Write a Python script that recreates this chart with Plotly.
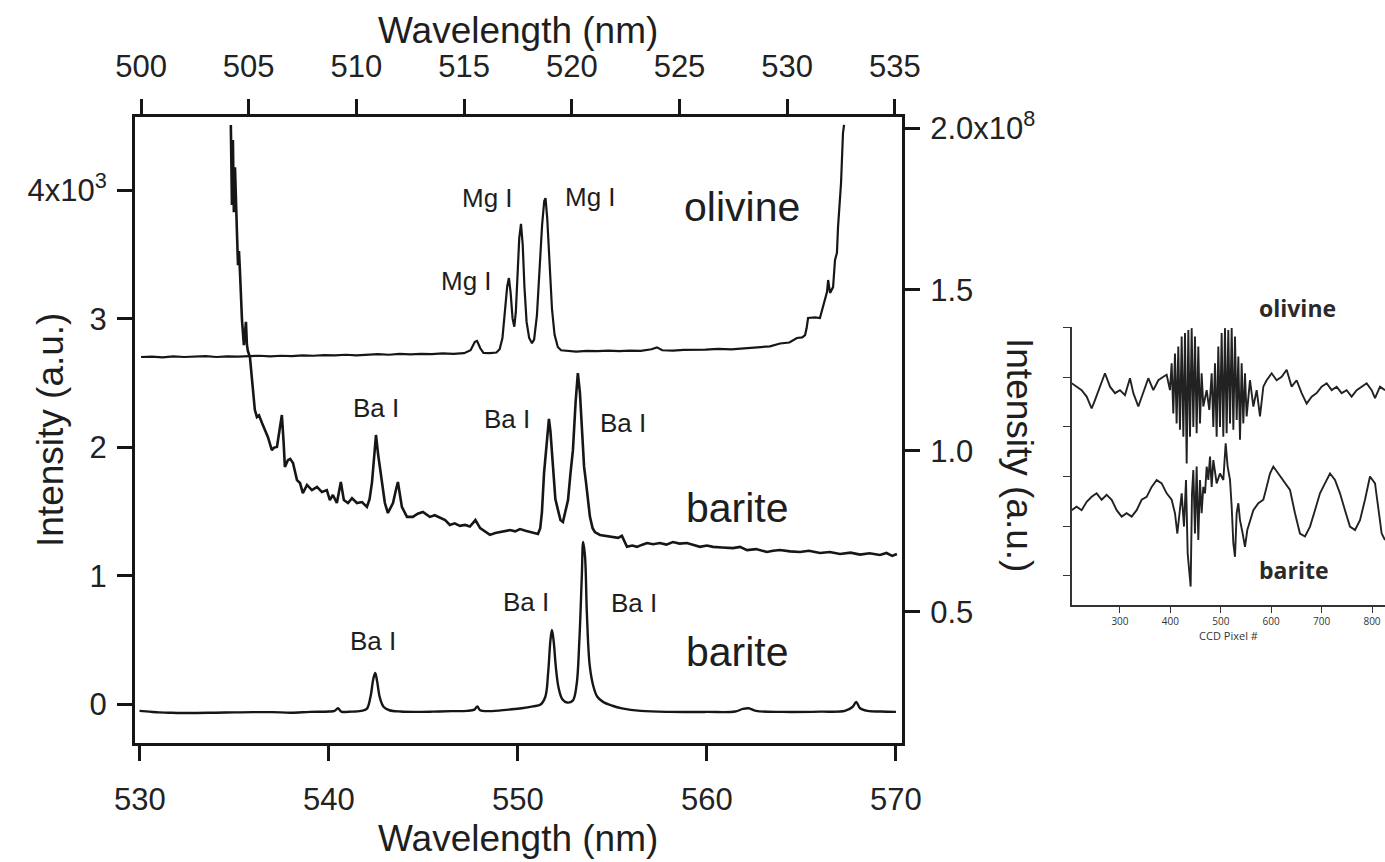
import plotly.graph_objects as go

# ---------------- data ----------------
# olivine spectrum (top wavelength axis, right intensity axis, x1e8)
oliv_wl = [500.0, 500.5, 501.0, 501.5, 502.0, 502.5, 503.0, 503.5, 504.0, 504.5, 505.0, 505.5, 506.0,
           506.5, 507.0, 507.5, 508.0, 508.5, 509.0, 509.5, 510.0, 510.5, 511.0, 511.5, 512.0, 512.5,
           513.0, 513.5, 514.0, 514.5, 515.0, 515.3, 515.5, 515.6, 515.75, 515.9, 516.2, 516.5, 516.65,
           516.78, 516.9, 517.0, 517.08, 517.16, 517.25, 517.33, 517.4, 517.48, 517.56, 517.64, 517.72,
           517.8, 517.9, 518.02, 518.15, 518.25, 518.38, 518.5, 518.62, 518.72, 518.78, 518.86, 518.96,
           519.08, 519.2, 519.35, 519.5, 519.8, 520.2, 520.7, 521.2, 521.7, 522.2, 522.7, 523.2, 523.7,
           523.95, 524.2, 524.7, 525.2, 525.5, 526.2, 526.8, 527.4, 528.0, 528.6, 529.2, 529.67, 530.1,
           530.45, 530.7, 530.83, 530.9, 530.97, 531.3, 531.52, 531.66, 531.85, 531.9, 531.99, 532.13,
           532.22, 532.31, 532.36, 532.5, 532.59, 532.64]
oliv_int = [1.291, 1.292, 1.290, 1.293, 1.291, 1.292, 1.294, 1.291, 1.293, 1.292, 1.294, 1.295, 1.293,
            1.295, 1.294, 1.296, 1.295, 1.297, 1.296, 1.298, 1.296, 1.299, 1.300, 1.298, 1.301, 1.299,
            1.301, 1.300, 1.302, 1.301, 1.303, 1.312, 1.338, 1.341, 1.318, 1.304, 1.303, 1.305, 1.315,
            1.350, 1.440, 1.510, 1.536, 1.490, 1.410, 1.385, 1.430, 1.550, 1.660, 1.704, 1.640,
            1.510, 1.400, 1.350, 1.334, 1.345, 1.420, 1.560, 1.700, 1.775, 1.784, 1.720, 1.580,
            1.440, 1.360, 1.322, 1.312, 1.310, 1.308, 1.310, 1.309, 1.311, 1.309, 1.311, 1.310, 1.315,
            1.321, 1.312, 1.311, 1.313, 1.313, 1.314, 1.316, 1.315, 1.318, 1.321, 1.324, 1.333, 1.336,
            1.350, 1.352, 1.359, 1.380, 1.412, 1.414, 1.412, 1.446, 1.493, 1.530, 1.490, 1.508,
            1.592, 1.614, 1.694, 1.831, 1.986, 2.011]

# barite spectrum 1 (bottom wavelength axis, right intensity axis, x1e8)
bar1_wl = [534.81, 534.87, 534.92, 534.97, 535.03, 535.08, 535.13, 535.19, 535.24, 535.29, 535.35, 535.40,
           535.50, 535.55, 535.61, 535.66, 535.71, 535.82, 535.93, 536.08, 536.19, 536.30, 536.46, 536.61,
           536.77, 536.98, 537.10, 537.25, 537.40, 537.51, 537.60, 537.67, 537.83, 537.95, 538.10, 538.31,
           538.47, 538.62, 538.84, 539.10, 539.37, 539.63, 539.89, 540.05, 540.21, 540.42, 540.63, 540.79,
           541.01, 541.22, 541.48, 541.75, 542.01, 542.15, 542.28, 542.40, 542.49, 542.60, 542.70, 542.96,
           543.12, 543.39, 543.55, 543.65, 543.86, 544.13, 544.44, 544.70, 544.97, 545.34, 545.60, 545.87,
           546.15, 546.40, 546.65, 546.93, 547.20, 547.46, 547.75, 548.0, 548.26, 548.52, 548.8, 549.05,
           549.3, 549.58, 549.85, 550.11, 550.4, 550.63, 550.85, 551.06, 551.18, 551.27, 551.38, 551.48,
           551.56, 551.64, 551.72, 551.85, 551.98, 552.12, 552.25, 552.38, 552.52, 552.65, 552.78, 552.91,
           553.05, 553.17, 553.28, 553.39, 553.50, 553.60, 553.70, 553.81, 553.95, 554.07, 554.34, 554.7,
           555.03, 555.3, 555.50, 555.77, 556.05, 556.30, 556.55, 556.83, 557.15, 557.51, 557.85, 558.20,
           558.55, 558.94, 559.3, 559.63, 560.0, 560.32, 560.8, 561.38, 561.75, 562.12, 562.6, 563.17,
           563.5, 563.86, 564.4, 564.92, 565.4, 565.98, 566.5, 567.04, 567.6, 568.10, 568.6, 569.15,
           569.5, 569.8, 570.05]
bar1_int = [2.011, 1.763, 1.964, 1.740, 1.880, 1.747, 1.685, 1.576, 1.620, 1.561, 1.468, 1.406,
            1.328, 1.360, 1.400, 1.330, 1.310, 1.291, 1.220, 1.127, 1.105, 1.110, 1.086, 1.065,
            1.043, 1.002, 1.010, 1.012, 1.070, 1.111, 1.030, 0.950, 0.971, 0.975, 0.962, 0.909,
            0.900, 0.869, 0.894, 0.878, 0.888, 0.872, 0.878, 0.847, 0.863, 0.838, 0.903, 0.847,
            0.838, 0.853, 0.838, 0.841, 0.826, 0.850, 0.903, 1.000, 1.049, 0.990, 0.950, 0.838,
            0.807, 0.838, 0.880, 0.903, 0.826, 0.795, 0.795, 0.805, 0.810, 0.795, 0.800, 0.792,
            0.785, 0.770, 0.775, 0.767, 0.770, 0.765, 0.785, 0.760, 0.748, 0.739, 0.745, 0.748,
            0.752, 0.754, 0.750, 0.757, 0.752, 0.748, 0.745, 0.742, 0.760, 0.810, 0.930, 1.002,
            1.070, 1.099, 1.060, 0.950, 0.850, 0.816, 0.785, 0.779, 0.820, 0.847, 0.930, 1.002,
            1.150, 1.241, 1.180, 1.055, 0.950, 0.903, 0.850, 0.795, 0.760, 0.748, 0.739, 0.736,
            0.733, 0.730, 0.736, 0.702, 0.706, 0.702, 0.708, 0.714, 0.710, 0.714, 0.709, 0.717,
            0.712, 0.714, 0.708, 0.702, 0.706, 0.702, 0.700, 0.698, 0.702, 0.692, 0.695, 0.686,
            0.690, 0.692, 0.688, 0.686, 0.690, 0.683, 0.686, 0.680, 0.684, 0.678, 0.682, 0.677,
            0.683, 0.674, 0.680]

# barite spectrum 2 (bottom wavelength axis, left intensity axis)
bar2_wl = [529.98, 530.5, 531.0, 531.5, 532.0, 533.0, 534.0, 535.0, 536.0, 537.0, 538.0, 539.0, 540.0,
           540.3, 540.48, 540.65, 541.2, 541.7, 542.0, 542.2, 542.35, 542.45, 542.55, 542.7, 542.9,
           543.2, 543.8, 544.5, 545.5, 546.5, 547.3, 547.7, 547.85, 548.0, 548.5, 549.5, 550.2, 550.8,
           551.2, 551.45, 551.6, 551.72, 551.8, 551.9, 552.0, 552.15, 552.35, 552.6, 552.9, 553.1,
           553.25, 553.38, 553.45, 553.55, 553.65, 553.8, 554.0, 554.2, 554.5, 555.0, 555.5, 556.5,
           558.0, 560.0, 561.5, 561.9, 562.2, 562.6, 564.0, 566.0, 567.3, 567.7, 567.9, 568.1, 568.5,
           569.2, 570.0]
bar2_int = [-50, -56, -62, -64, -66, -66, -64, -62, -60, -60, -64, -58, -55,
            -50, -30, -55, -56, -50, -35, 60, 200, 245, 180, 50, -20,
            -45, -55, -58, -56, -52, -50, -40, -15, -45, -52, -40, -30, -15,
            0, 60, 250, 500, 580, 480, 300, 130, 40, 15, 30, 150,
            500, 1000, 1265, 1150, 700, 300, 136, 60, 20, -10, -30, -50,
            -58, -58, -55, -35, -30, -50, -58, -56, -50, -20, 19, -30, -50,
            -55, -58]

# inset: CCD pixel traces
ccd_px_ol = [204.1, 214.0, 223.9, 233.9, 243.8, 250.4, 260.3, 270.2, 280.2, 290.1, 300.0, 309.9, 319.8,
             326.5, 336.4, 346.3, 356.2, 366.1, 376.1, 386.0, 392.6, 399.2, 402.5, 405.8, 409.1, 412.4,
             415.7, 419.0, 422.4, 425.7, 429.0, 432.3, 435.6, 438.9, 442.2, 445.5, 448.8, 452.1, 455.4,
             458.7, 462.0, 465.3, 472.0, 477.2, 481.9, 485.2, 488.5, 491.8, 495.1, 498.4, 501.7, 505.0,
             508.3, 511.6, 514.9, 518.3, 521.6, 524.9, 528.2, 531.5, 534.8, 538.1, 541.4, 544.7, 548.0,
             551.3, 557.9, 564.6, 571.2, 577.8, 584.4, 591.0, 600.9, 610.8, 620.8, 630.7, 640.6, 650.5,
             660.4, 670.4, 680.3, 690.2, 700.1, 710.1, 720.0, 729.9, 739.8, 749.7, 759.6, 769.6, 779.5,
             789.4, 799.3, 806.0, 815.9, 825.8]
ccd_ol = [3.88, 3.81, 3.74, 3.61, 3.37, 3.54, 3.81, 4.08, 3.81, 3.68, 3.74, 3.64, 3.98,
          3.68, 3.41, 3.68, 3.98, 3.74, 3.94, 4.01, 4.05, 3.74, 4.28, 3.27, 4.48, 3.07,
          4.62, 2.94, 4.82, 2.80, 4.89, 2.26, 4.95, 2.80, 4.99, 3.00, 4.82, 2.87, 4.62,
          3.07, 4.08, 3.41, 3.74, 3.34, 4.08, 3.00, 4.28, 2.80, 4.62, 3.00, 4.89, 2.80,
          4.99, 2.87, 4.95, 3.07, 4.99, 2.94, 4.82, 3.14, 4.42, 2.74, 4.28, 3.07, 4.08,
          3.21, 3.94, 3.41, 3.74, 3.21, 3.81, 3.94, 4.08, 3.94, 4.01, 4.15, 3.81, 3.94,
          3.68, 3.47, 3.61, 3.68, 3.81, 3.88, 3.74, 3.81, 3.68, 3.74, 3.61, 3.74, 3.81,
          3.88, 3.74, 3.58, 3.81, 3.74]
ccd_px_ba = [204.1, 214.0, 223.9, 233.9, 243.8, 253.7, 263.6, 273.5, 283.5, 293.4, 303.3, 313.2, 323.1,
             333.1, 343.0, 352.9, 362.8, 372.8, 382.7, 392.6, 402.5, 409.1, 413.8, 417.7, 422.4, 427.0,
             431.0, 434.3, 437.6, 440.2, 442.9, 445.5, 448.8, 452.1, 455.4, 458.7, 462.0, 465.3, 468.7,
             472.0, 475.3, 478.6, 481.9, 485.2, 491.8, 498.4, 505.0, 509.7, 513.6, 518.3, 521.6, 524.9,
             528.2, 531.5, 534.8, 538.1, 543.4, 548.0, 552.6, 557.9, 564.6, 574.5, 584.4, 591.0, 597.6,
             604.2, 614.2, 624.1, 637.3, 647.2, 657.1, 667.1, 677.0, 686.9, 696.8, 706.7, 716.7, 726.6,
             736.5, 746.4, 756.3, 766.3, 776.2, 786.1, 796.0, 806.0, 812.6, 819.2, 825.8]
ccd_ba = [1.32, 1.39, 1.32, 1.49, 1.59, 1.66, 1.53, 1.63, 1.53, 1.32, 1.19, 1.26, 1.19,
          1.32, 1.53, 1.59, 1.79, 1.93, 1.86, 1.66, 1.53, 1.26, 0.85, 1.19, 1.66, 0.99,
          1.93, 0.45, 0.05, -0.22, 1.66, 2.13, 0.85, 2.20, 0.72, 1.93, 1.26, 1.79, 1.66,
          2.20, 1.93, 2.40, 1.79, 2.33, 1.86, 2.06, 1.93, 2.67, 2.20, 1.93, 1.39, 0.65,
          0.38, 1.26, 1.46, 1.12, 0.85, 0.58, 0.92, 1.12, 1.32, 1.46, 1.53, 1.79, 2.06,
          2.20, 2.06, 1.93, 1.73, 1.26, 0.85, 0.79, 0.99, 1.32, 1.66, 1.86, 2.06, 1.93,
          1.66, 1.32, 0.99, 0.92, 1.12, 1.53, 2.00, 1.86, 1.39, 0.85, 0.72]

bottom_ticks = [530, 540, 550, 560, 570]
top_ticks = [500, 505, 510, 515, 520, 525, 530, 535]
left_ticks = [0, 1000, 2000, 3000, 4000]
left_labels = ["0", "1", "2", "3", "4x10<sup>3</sup>"]
right_ticks = [0.5, 1.0, 1.5, 2.0]
right_labels = ["0.5", "1.0", "1.5", "2.0x10<sup>8</sup>"]
inset_ticks = [300, 400, 500, 600, 700, 800]

# ---------------- figure ----------------
W, H = 1385, 862
INK = "#161616"
FONT = "Liberation Sans, Arial, Helvetica, sans-serif"


def px(x):
    return x / W


def py(y):
    return 1 - y / H


fig = go.Figure()
fig.add_trace(go.Scatter(x=oliv_wl, y=oliv_int, xaxis="x2", yaxis="y2", mode="lines",
                         line=dict(color=INK, width=2.2), hoverinfo="skip"))
fig.add_trace(go.Scatter(x=bar1_wl, y=bar1_int, xaxis="x", yaxis="y2", mode="lines",
                         line=dict(color=INK, width=2.6), hoverinfo="skip"))
fig.add_trace(go.Scatter(x=bar2_wl, y=bar2_int, xaxis="x", yaxis="y", mode="lines",
                         line=dict(color=INK, width=2.4), line_shape="spline", hoverinfo="skip"))
fig.add_trace(go.Scatter(x=ccd_px_ol, y=ccd_ol, xaxis="x3", yaxis="y3", mode="lines",
                         line=dict(color="#222", width=1.9), hoverinfo="skip"))
fig.add_trace(go.Scatter(x=ccd_px_ba, y=ccd_ba, xaxis="x3", yaxis="y3", mode="lines",
                         line=dict(color="#222", width=1.9), hoverinfo="skip"))

main_axis = dict(showline=True, linecolor=INK, linewidth=3, ticks="outside", ticklen=15,
                 tickwidth=2.5, tickcolor=INK, showgrid=False, zeroline=False, automargin=False,
                 tickfont=dict(family=FONT, size=31, color="#222"))

fig.update_layout(
    width=W, height=H, margin=dict(l=0, r=0, t=0, b=0, autoexpand=False),
    paper_bgcolor="white", plot_bgcolor="white", showlegend=False,
    xaxis=dict(main_axis, domain=[px(135), px(902)], range=[529.74, 570.32], anchor="y",
               side="bottom", tickvals=bottom_ticks, ticklabelstandoff=12),
    xaxis2=dict(main_axis, overlaying="x", side="top", anchor="y", range=[499.72, 535.33],
                tickvals=top_ticks, ticklabelstandoff=10),
    yaxis=dict(main_axis, domain=[py(743), py(117)], range=[-300, 4572], anchor="x",
               tickvals=left_ticks, ticktext=left_labels, ticklabelstandoff=4),
    yaxis2=dict(main_axis, overlaying="y", side="right", anchor="x", range=[0.0934, 2.0357],
                tickvals=right_ticks, ticktext=right_labels, ticklabelstandoff=4),
    xaxis3=dict(domain=[px(1072), 1.0], anchor="y3", range=[204.8, 825.8], showline=True,
                linecolor="#333", linewidth=1.5, ticks="outside", ticklen=6, tickwidth=1.2,
                tickcolor="#333", tickvals=inset_ticks, showgrid=False, zeroline=False,
                automargin=False,
                tickfont=dict(family="Open Sans, sans-serif", size=10, color="#333"),
                title=dict(text="CCD Pixel #", standoff=2,
                           font=dict(family="Open Sans, sans-serif", size=11, color="#333"))),
    yaxis3=dict(domain=[py(605), py(327)], anchor="x3", range=[-0.591, 5.013], showline=True,
                linecolor="#333", linewidth=1.5, ticks="outside", ticklen=7, tickwidth=1.2,
                tickcolor="#333", tickvals=[0, 1, 2, 3, 4, 5], showticklabels=False,
                showgrid=False, zeroline=False, automargin=False),
)

ann = []


def label(text, x, y, size, angle=0, bold=False, family=FONT, color="#1e1e1e"):
    ann.append(dict(text=("<b>%s</b>" % text) if bold else text, x=px(x), y=py(y),
                    xref="paper", yref="paper", showarrow=False, textangle=angle,
                    xanchor="center", yanchor="middle",
                    font=dict(family=family, size=size, color=color)))


label("Wavelength (nm)", 518, 30, 37)
label("Wavelength (nm)", 518, 838, 37)
label("Intensity (a.u.)", 50, 430, 37, angle=-90)
label("Intensity (a.u.)", 1020, 455, 37, angle=90)
label("olivine", 742, 207, 41)
label("barite", 737, 508, 41)
label("barite", 737, 652, 41)
label("Mg I", 487, 198, 26)
label("Mg I", 590, 197, 26)
label("Mg I", 466, 281, 26)
label("Ba I", 376, 408, 26)
label("Ba I", 507, 419, 26)
label("Ba I", 623, 423, 26)
label("Ba I", 373, 641, 26)
label("Ba I", 526, 602, 26)
label("Ba I", 634, 603, 26)
label("olivine", 1297, 308, 23, bold=True, family="Open Sans, sans-serif", color="#2a2a2a")
label("barite", 1293, 570, 23, bold=True, family="Open Sans, sans-serif", color="#2a2a2a")
fig.update_layout(annotations=ann)

fig.write_html("out.html")
